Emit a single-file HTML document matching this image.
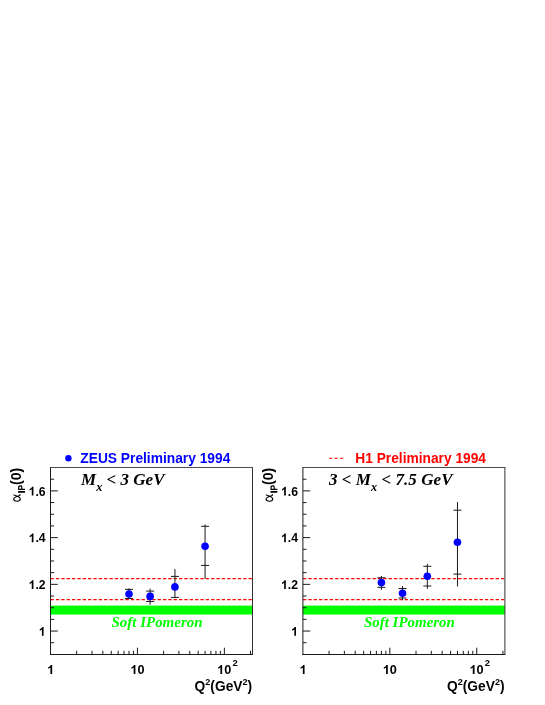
<!DOCTYPE html>
<html><head><meta charset="utf-8"><title>alpha_IP(0) vs Q2</title>
<style>
html,body{margin:0;padding:0;background:#fff;}
svg{display:block;will-change:transform;}
text{font-family:"Liberation Sans",sans-serif;font-weight:bold;fill:#000;}
.tl{font-size:12.2px;}
.tx{font-size:12.7px;}
.ts{font-size:9.5px;}
.at{font-size:14px;}
.as{font-size:9.2px;}
.lg{font-size:14px;}
.sp{font-family:"Liberation Serif",serif;font-style:italic;font-weight:bold;font-size:15px;fill:#00ff00;}
.mx{font-family:"Liberation Serif",serif;font-style:italic;font-weight:bold;font-size:17px;}
.mxs{font-family:"Liberation Serif",serif;font-style:italic;font-weight:bold;font-size:12.2px;}
</style></head>
<body>
<svg width="545" height="705" viewBox="0 0 545 705">
<rect width="545" height="705" fill="#ffffff"/>
<g>
<rect x="50.5" y="605.6" width="202.0" height="8.95" fill="#00ff00"/>
<path d="M50.6 578.55H252.5M50.6 599.55H252.5" stroke="#ff0000" stroke-width="1.2" stroke-dasharray="3.3 2.05" fill="none"/>
<path d="M50.0 467.5H253.0" stroke="#4c4c4c" stroke-width="1" fill="none"/>
<path d="M252.5 467.5V654.5" stroke="#333" stroke-width="1" fill="none"/>
<path d="M50.5 467.5V655.0M50.0 654.5H253.0" stroke="#1a1a1a" stroke-width="1" fill="none"/>
<path d="M50.5 642.73h3.6 M50.5 631.05h7.3 M50.5 619.37h3.6 M50.5 607.69h3.6 M50.5 596.01h3.6 M50.5 584.33h7.3 M50.5 572.65h3.6 M50.5 560.97h3.6 M50.5 549.29h3.6 M50.5 537.61h7.3 M50.5 525.93h3.6 M50.5 514.25h3.6 M50.5 502.57h3.6 M50.5 490.89h7.3 M50.5 479.21h3.6 M76.67 654.5v-3.7 M91.98 654.5v-3.7 M102.84 654.5v-3.7 M111.26 654.5v-3.7 M118.14 654.5v-3.7 M123.96 654.5v-3.7 M129.01 654.5v-3.7 M133.45 654.5v-3.7 M137.43 654.5v-6.8 M163.6 654.5v-3.7 M178.91 654.5v-3.7 M189.77 654.5v-3.7 M198.19 654.5v-3.7 M205.07 654.5v-3.7 M210.89 654.5v-3.7 M215.94 654.5v-3.7 M220.38 654.5v-3.7 M224.36 654.5v-6.8 M250.53 654.5v-3.7" stroke="#1a1a1a" stroke-width="1" fill="none"/>
<path transform="translate(38.81,635.75) scale(0.00596,-0.00596)" d="M805 0H524V1059Q370 915 161 846V1101Q271 1137 400 1237.5Q529 1338 577 1472H805Z" fill="#000"/>
<text x="45.6" y="589.03" text-anchor="end" class="tl">.2</text>
<path transform="translate(28.64,589.03) scale(0.00596,-0.00596)" d="M805 0H524V1059Q370 915 161 846V1101Q271 1137 400 1237.5Q529 1338 577 1472H805Z" fill="#000"/>
<text x="45.6" y="542.31" text-anchor="end" class="tl">.4</text>
<path transform="translate(28.64,542.31) scale(0.00596,-0.00596)" d="M805 0H524V1059Q370 915 161 846V1101Q271 1137 400 1237.5Q529 1338 577 1472H805Z" fill="#000"/>
<text x="45.6" y="495.59" text-anchor="end" class="tl">.6</text>
<path transform="translate(28.64,495.59) scale(0.00596,-0.00596)" d="M805 0H524V1059Q370 915 161 846V1101Q271 1137 400 1237.5Q529 1338 577 1472H805Z" fill="#000"/>
<path transform="translate(47.17,674.1) scale(0.00620,-0.00620)" d="M805 0H524V1059Q370 915 161 846V1101Q271 1137 400 1237.5Q529 1338 577 1472H805Z" fill="#000"/>
<path transform="translate(130.42,674.1) scale(0.00620,-0.00620)" d="M805 0H524V1059Q370 915 161 846V1101Q271 1137 400 1237.5Q529 1338 577 1472H805Z" fill="#000"/>
<text x="137.48" y="674.1" class="tx">0</text>
<path transform="translate(217.14,674.1) scale(0.00620,-0.00620)" d="M805 0H524V1059Q370 915 161 846V1101Q271 1137 400 1237.5Q529 1338 577 1472H805Z" fill="#000"/>
<text x="224.2" y="674.1" class="tx">0</text>
<text x="232.4" y="665.7" class="ts">2</text>
<text x="194.6" y="691.1" class="at" textLength="57.6" lengthAdjust="spacingAndGlyphs">Q<tspan dy="-6.3" class="as">2</tspan><tspan dy="6.3">(GeV</tspan><tspan dy="-6.3" class="as">2</tspan><tspan dy="6.3">)</tspan></text>
<g transform="translate(20.8,502) rotate(-90)"><path d="M7 -7C6.6 -5.5 5.2 -0.5 2.9 -0.5C1.4 -0.5 0.8 -2 0.8 -3.8C0.8 -5.6 1.5 -7.1 3 -7.1C4.6 -7.1 5.4 -4.5 6 -2.5C6.4 -1.2 6.8 -0.4 7.4 -0.9" fill="none" stroke="#000" stroke-width="1.15" stroke-linecap="round"/><path transform="translate(8.4,4.15) scale(0.006,-0.00468)" d="M140 0V1466H436V0Z" fill="#000"/><path transform="translate(11.4,4.15) scale(0.0043,-0.00468)" d="M150 0V1466H625Q895 1466 977 1444Q1103 1411 1188 1300.5Q1273 1190 1273 1015Q1273 880 1224 788Q1175 696 1099.5 643.5Q1024 591 946 574Q840 553 639 553H446V0ZM446 1218V802H608Q783 802 842 825Q901 848 934.5 897Q968 946 968 1011Q968 1091 921 1143Q874 1195 802 1208Q749 1218 589 1218Z" fill="#000"/><text x="17" y="0" class="at">(0)</text></g>
<text x="111.5" y="627" class="sp" textLength="91" lengthAdjust="spacingAndGlyphs">Soft IPomeron</text>
<path d="M129.01 588.3V598.9M125.01 589.4h8M125.01 598.5h8 M150.13 588.6V604.8M146.13 591.1h8M146.13 601.5h8 M174.93 569.1V597.9M170.93 576.4h8M170.93 597.4h8 M205.07 524.4V578.9M201.07 526.3h8M201.07 565.4h8" stroke="#1a1a1a" stroke-width="1" fill="none"/>
<circle cx="129.01" cy="594.05" r="3.8" fill="#0000ff"/>
<circle cx="150.13" cy="596.4" r="3.8" fill="#0000ff"/>
<circle cx="174.93" cy="586.9" r="3.8" fill="#0000ff"/>
<circle cx="205.07" cy="546.2" r="3.8" fill="#0000ff"/>
<text x="81" y="484.6" class="mx" textLength="83.5" lengthAdjust="spacing">M<tspan dy="6.3" class="mxs">x</tspan><tspan dy="-6.3"> &lt; 3 GeV</tspan></text>
<circle cx="68.4" cy="458.3" r="3.2" fill="#0000ff"/>
<text x="80.3" y="463.2" class="lg" style="fill:#0000ff" textLength="150" lengthAdjust="spacingAndGlyphs">ZEUS Preliminary 1994</text>
</g>
<g transform="translate(252.4,0)">
<rect x="50.5" y="605.6" width="202.0" height="8.95" fill="#00ff00"/>
<path d="M50.6 578.55H252.5M50.6 599.55H252.5" stroke="#ff0000" stroke-width="1.2" stroke-dasharray="3.3 2.05" fill="none"/>
<path d="M50.0 467.5H253.0" stroke="#4c4c4c" stroke-width="1" fill="none"/>
<path d="M252.5 467.5V654.5" stroke="#333" stroke-width="1" fill="none"/>
<path d="M50.5 467.5V655.0M50.0 654.5H253.0" stroke="#1a1a1a" stroke-width="1" fill="none"/>
<path d="M50.5 642.73h3.6 M50.5 631.05h7.3 M50.5 619.37h3.6 M50.5 607.69h3.6 M50.5 596.01h3.6 M50.5 584.33h7.3 M50.5 572.65h3.6 M50.5 560.97h3.6 M50.5 549.29h3.6 M50.5 537.61h7.3 M50.5 525.93h3.6 M50.5 514.25h3.6 M50.5 502.57h3.6 M50.5 490.89h7.3 M50.5 479.21h3.6 M76.67 654.5v-3.7 M91.98 654.5v-3.7 M102.84 654.5v-3.7 M111.26 654.5v-3.7 M118.14 654.5v-3.7 M123.96 654.5v-3.7 M129.01 654.5v-3.7 M133.45 654.5v-3.7 M137.43 654.5v-6.8 M163.6 654.5v-3.7 M178.91 654.5v-3.7 M189.77 654.5v-3.7 M198.19 654.5v-3.7 M205.07 654.5v-3.7 M210.89 654.5v-3.7 M215.94 654.5v-3.7 M220.38 654.5v-3.7 M224.36 654.5v-6.8 M250.53 654.5v-3.7" stroke="#1a1a1a" stroke-width="1" fill="none"/>
<path transform="translate(38.81,635.75) scale(0.00596,-0.00596)" d="M805 0H524V1059Q370 915 161 846V1101Q271 1137 400 1237.5Q529 1338 577 1472H805Z" fill="#000"/>
<text x="45.6" y="589.03" text-anchor="end" class="tl">.2</text>
<path transform="translate(28.64,589.03) scale(0.00596,-0.00596)" d="M805 0H524V1059Q370 915 161 846V1101Q271 1137 400 1237.5Q529 1338 577 1472H805Z" fill="#000"/>
<text x="45.6" y="542.31" text-anchor="end" class="tl">.4</text>
<path transform="translate(28.64,542.31) scale(0.00596,-0.00596)" d="M805 0H524V1059Q370 915 161 846V1101Q271 1137 400 1237.5Q529 1338 577 1472H805Z" fill="#000"/>
<text x="45.6" y="495.59" text-anchor="end" class="tl">.6</text>
<path transform="translate(28.64,495.59) scale(0.00596,-0.00596)" d="M805 0H524V1059Q370 915 161 846V1101Q271 1137 400 1237.5Q529 1338 577 1472H805Z" fill="#000"/>
<path transform="translate(47.17,674.1) scale(0.00620,-0.00620)" d="M805 0H524V1059Q370 915 161 846V1101Q271 1137 400 1237.5Q529 1338 577 1472H805Z" fill="#000"/>
<path transform="translate(130.42,674.1) scale(0.00620,-0.00620)" d="M805 0H524V1059Q370 915 161 846V1101Q271 1137 400 1237.5Q529 1338 577 1472H805Z" fill="#000"/>
<text x="137.48" y="674.1" class="tx">0</text>
<path transform="translate(217.14,674.1) scale(0.00620,-0.00620)" d="M805 0H524V1059Q370 915 161 846V1101Q271 1137 400 1237.5Q529 1338 577 1472H805Z" fill="#000"/>
<text x="224.2" y="674.1" class="tx">0</text>
<text x="232.4" y="665.7" class="ts">2</text>
<text x="194.6" y="691.1" class="at" textLength="57.6" lengthAdjust="spacingAndGlyphs">Q<tspan dy="-6.3" class="as">2</tspan><tspan dy="6.3">(GeV</tspan><tspan dy="-6.3" class="as">2</tspan><tspan dy="6.3">)</tspan></text>
<g transform="translate(20.8,502) rotate(-90)"><path d="M7 -7C6.6 -5.5 5.2 -0.5 2.9 -0.5C1.4 -0.5 0.8 -2 0.8 -3.8C0.8 -5.6 1.5 -7.1 3 -7.1C4.6 -7.1 5.4 -4.5 6 -2.5C6.4 -1.2 6.8 -0.4 7.4 -0.9" fill="none" stroke="#000" stroke-width="1.15" stroke-linecap="round"/><path transform="translate(8.4,4.15) scale(0.006,-0.00468)" d="M140 0V1466H436V0Z" fill="#000"/><path transform="translate(11.4,4.15) scale(0.0043,-0.00468)" d="M150 0V1466H625Q895 1466 977 1444Q1103 1411 1188 1300.5Q1273 1190 1273 1015Q1273 880 1224 788Q1175 696 1099.5 643.5Q1024 591 946 574Q840 553 639 553H446V0ZM446 1218V802H608Q783 802 842 825Q901 848 934.5 897Q968 946 968 1011Q968 1091 921 1143Q874 1195 802 1208Q749 1218 589 1218Z" fill="#000"/><text x="17" y="0" class="at">(0)</text></g>
<text x="111.5" y="627" class="sp" textLength="91" lengthAdjust="spacingAndGlyphs">Soft IPomeron</text>
<path d="M129.01 576.0V589.8M125.01 577.75h8M125.01 587.3h8 M150.13 586.1V600.2M146.13 588.5h8M146.13 598.0h8 M174.93 563.8V588.8M170.93 566.3h8M170.93 586.0h8 M205.07 502.1V586.5M201.07 510.2h8M201.07 574.1h8" stroke="#1a1a1a" stroke-width="1" fill="none"/>
<circle cx="129.01" cy="582.6" r="3.8" fill="#0000ff"/>
<circle cx="150.13" cy="593.2" r="3.8" fill="#0000ff"/>
<circle cx="174.93" cy="576.3" r="3.8" fill="#0000ff"/>
<circle cx="205.07" cy="542.2" r="3.8" fill="#0000ff"/>
<text x="76.6" y="484.6" class="mx" textLength="123.5" lengthAdjust="spacing">3 &lt; M<tspan dy="6.3" class="mxs">x</tspan><tspan dy="-6.3"> &lt; 7.5 GeV</tspan></text>
<path d="M76.6 458.3h14.3" stroke="#ff0000" stroke-width="1.1" stroke-dasharray="3.3 2.2" fill="none"/>
<text x="102.9" y="463.2" class="lg" style="fill:#ff0000" textLength="130.7" lengthAdjust="spacingAndGlyphs">H1 Preliminary 1994</text>
</g>
</svg>
</body></html>
